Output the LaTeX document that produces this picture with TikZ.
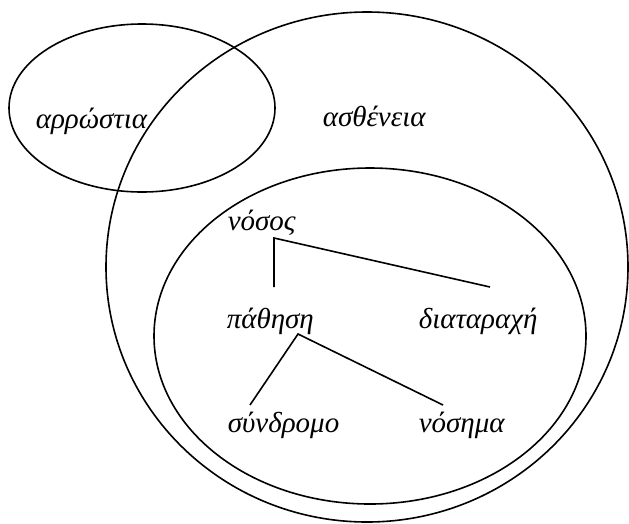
\documentclass[tikz,border=0pt]{standalone}
\usepackage{fontspec}
\setmainfont{Liberation Serif}
\usetikzlibrary{positioning}

\begin{document}
\begin{tikzpicture}[
  x=1pt, y=-1pt, line width=1.6pt,
  font=\fontsize{29}{33}\selectfont\itshape,
  term/.style={anchor=base west, inner sep=0pt},
  set/.style={draw, line width=1.6pt}
]
\useasboundingbox (0,0) rectangle (629,523);
% the three sets
\draw[set] (142,108) ellipse [x radius=133pt, y radius=84pt];
\draw[set] (367,267) ellipse [x radius=261pt, y radius=255pt];
\draw[set] (370,336) ellipse [x radius=216pt, y radius=168pt];
% terms
\node[term] (arrostia) at (35,128) {αρρώστια};
\node[term] (astheneia) at (322,126) {ασθένεια};
\node[term] (nosos) at (227,230) {νόσος};
\node[term] (pathisi) at (226,328) {πάθηση};
\node[term] (diataraxi) at (418,328) {διαταραχή};
\node[term] (syndromo) at (227,432) {σύνδρομο};
\node[term] (nosima) at (418,432) {νόσημα};
% tree joints
\coordinate (nososjoin) at (274,238);
\coordinate (pathisitop) at (274,287);
\coordinate (diataraxitop) at (490,287);
\coordinate (pathisijoin) at (298,334);
\coordinate (syndromotop) at (250,405);
\coordinate (nosimatop) at (443,405);
\draw (pathisitop) -- (nososjoin) -- (diataraxitop);
\draw (syndromotop) -- (pathisijoin) -- (nosimatop);
\end{tikzpicture}
\end{document}
